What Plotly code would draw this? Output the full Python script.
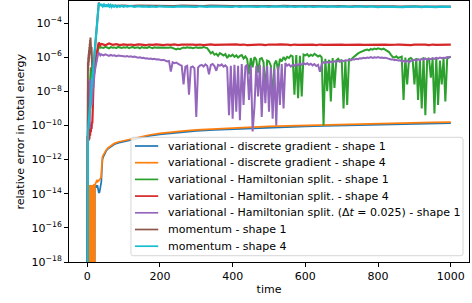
import plotly.graph_objects as go

# ------------------------------------------------------------------
# Data: log10 of the relative error in total energy
# (-30 marks an exact zero, which falls below the log axis)
# ------------------------------------------------------------------
series_names = [
    "variational - discrete gradient - shape 1",
    "variational - discrete gradient - shape 4",
    "variational - Hamiltonian split. - shape 1",
    "variational - Hamiltonian split. - shape 4",
    "variational - Hamiltonian split. (Δ<i>t</i> = 0.025) - shape 1",
    "momentum - shape 1",
    "momentum - shape 4",
]
series_colors = ["#1f77b4", "#ff7f0e", "#2ca02c", "#d62728", "#9467bd", "#8c564b", "#17becf"]
series_widths = [1.7, 1.7, 2.0, 2.2, 2.0, 2.0, 2.2]

x_ticks = [0, 200, 400, 600, 800, 1000]
y_tick_exps = [-18, -16, -14, -12, -10, -8, -6, -4]

late_t5 = list(range(40, 1001, 5))
late_t10 = list(range(40, 1001, 10))

dg_t = [0, 1, 2, 3, 4, 5, 6, 7, 8, 9, 10, 11, 12, 13, 14, 15, 16, 17, 18, 19, 20, 21,
        22, 24, 26, 28, 30, 32, 34, 36, 38,
        39, 40, 41, 42,
        44, 48, 52, 57, 62, 67, 75, 85, 100, 112, 130, 145, 170, 200, 230, 260, 300,
        350, 400, 450, 500, 550, 600, 650, 700, 750, 800, 850, 900, 950, 1000]

blue_log = [-30, -13.7, -30, -13.75, -30, -13.7, -30, -13.8, -30, -13.7, -30, -13.75,
            -30, -13.7, -30, -13.8, -30, -13.7, -30, -13.75, -30, -13.6,
            -13.6, -13.55, -13.65, -13.5, -13.85, -13.95, -13.9, -13.6, -13.5,
            -13.3, -12.7, -12.25, -12.0,
            -11.85, -11.65, -11.5, -11.37, -11.28, -11.2, -11.1, -11.02, -10.94, -10.89,
            -10.8, -10.72, -10.61, -10.52, -10.45, -10.39, -10.32, -10.26, -10.21, -10.16,
            -10.12, -10.08, -10.05, -10.03, -10.01, -9.98, -9.96, -9.93, -9.91, -9.88, -9.86]

orange_log = [-30, -30, -30, -13.5, -30, -13.6, -30, -13.5, -30, -13.55, -30, -13.5,
              -30, -13.6, -30, -13.5, -30, -13.55, -30, -13.45, -30, -13.5,
              -13.45, -13.3, -13.25, -13.3, -13.22, -13.25, -13.18, -13.15, -13.05,
              -12.8, -12.4, -12.05, -11.85,
              -11.75, -11.58, -11.45, -11.32, -11.23, -11.15, -11.05, -10.97, -10.89, -10.84,
              -10.75, -10.67, -10.56, -10.47, -10.39, -10.33, -10.26, -10.2, -10.15, -10.1,
              -10.06, -10.02, -9.99, -9.97, -9.95, -9.92, -9.9, -9.87, -9.85, -9.82, -9.8]

green_t = [0, 0.5, 2, 4, 6, 8, 9, 10, 11, 12, 13, 14, 15, 16, 17, 18, 19, 20,
           22, 24, 26, 28, 30, 32, 34, 36, 38] + late_t5
green_log = [-30, -10.5, -9.6, -9.0, -8.4, -7.6, -6.9, -6.6, -7.0, -6.7, -7.2, -6.9,
             -7.3, -7.0, -7.4, -7.1, -7.3, -6.8, -6.45, -6.15, -5.9, -5.68, -5.5, -5.38,
             -5.40, -5.45, -5.42,
             # t = 40 .. 95
             -5.42, -5.46, -5.40, -5.44, -5.48, -5.41, -5.45, -5.43, -5.47, -5.40, -5.44, -5.46,
             # t = 100 .. 195
             -5.42, -5.45, -5.41, -5.47, -5.43, -5.40, -5.46, -5.44, -5.42, -5.48,
             -5.41, -5.45, -5.43, -5.46, -5.40, -5.44, -5.47, -5.42, -5.45, -5.43,
             # t = 200 .. 295
             -5.44, -5.41, -5.46, -5.43, -5.47, -5.45, -5.42, -5.48, -5.52, -5.55,
             -5.50, -5.53, -5.47, -5.44, -5.46, -5.42, -5.45, -5.43, -5.47, -5.44,
             # t = 300 .. 395
             -5.42, -5.46, -5.43, -5.45, -5.41, -5.44, -5.47, -5.62, -5.78, -5.70,
             -5.86, -5.80, -5.92, -5.76, -5.84, -5.90, -5.82, -6.05, -5.88, -5.95,
             # t = 400 .. 495
             -5.85, -5.98, -5.90, -6.02, -5.93, -5.88, -6.08, -5.96, -6.12, -7.0,
             -6.05, -6.6, -6.0, -6.15, -6.9, -6.1, -6.05, -6.3, -8.0, -6.2,
             # t = 500 .. 595
             -6.25, -6.5, -8.6, -6.4, -6.2, -6.8, -6.1, -6.25, -6.0, -6.15,
             -5.98, -6.05, -5.9, -5.95, -8.2, -5.88, -8.4, -5.92, -8.3, -5.85,
             # t = 600 .. 695
             -5.9, -5.82, -5.95, -5.86, -5.92, -5.8, -5.88, -5.96, -5.9, -6.02,
             -10.0, -6.1, -8.0, -6.15, -8.6, -6.05, -7.8, -6.2, -6.1, -6.25,
             # t = 700 .. 795
             -6.15, -9.0, -6.2, -8.8, -6.1, -6.18, -6.05, -5.95, -5.85, -5.78,
             -5.72, -5.66, -5.62, -5.58, -5.55, -5.6, -5.52, -5.56, -5.5, -5.53,
             # t = 800 .. 895
             -5.48, -5.52, -5.55, -5.5, -5.58, -5.62, -5.7, -5.85, -5.98, -6.02,
             -5.95, -6.05, -6.0, -5.97, -8.5, -6.02, -7.6, -6.1, -6.05, -6.15,
             # t = 900 .. 1000
             -7.6, -6.05, -8.5, -6.1, -9.0, -6.0, -9.4, -6.15, -6.05, -7.2,
             -6.1, -9.3, -6.0, -8.8, -6.2, -7.6, -6.05, -8.6, -6.1, -6.0, -5.98]

red_t = [0, 0.5, 1, 2, 3, 4, 5, 6, 7, 8, 9, 10, 11, 12, 13, 14, 15, 16, 17, 18,
         20, 22, 24, 26, 28, 30, 32, 34, 36, 38] + late_t10
red_log = [-30, -11.0, -10.6, -11.0, -10.4, -10.9, -10.3, -10.8, -10.2, -10.6, -10.0,
           -10.4, -9.9, -10.2, -9.8, -9.9, -9.3, -8.3, -7.4, -7.0, -6.6, -6.3, -6.0,
           -5.75, -5.5, -5.3, -5.15, -5.22, -5.3, -5.24,
           # t = 40 .. 90
           -5.22, -5.30, -5.20, -5.28, -5.24, -5.29,
           # t = 100 .. 890
           -5.25, -5.28, -5.26, -5.29, -5.25, -5.27, -5.30, -5.26, -5.28, -5.25,
           -5.27, -5.29, -5.26, -5.28, -5.25, -5.29, -5.27, -5.26, -5.28, -5.27,
           -5.28, -5.26, -5.29, -5.27, -5.25, -5.28, -5.27, -5.29, -5.26, -5.28,
           -5.27, -5.25, -5.28, -5.26, -5.29, -5.27, -5.28, -5.26, -5.27, -5.29,
           -5.26, -5.28, -5.27, -5.25, -5.28, -5.27, -5.29, -5.26, -5.28, -5.27,
           -5.28, -5.26, -5.27, -5.29, -5.26, -5.28, -5.27, -5.25, -5.28, -5.27,
           -5.26, -5.28, -5.27, -5.29, -5.27, -5.26, -5.28, -5.27, -5.29, -5.26,
           -5.28, -5.27, -5.26, -5.28, -5.29, -5.27, -5.26, -5.28, -5.27, -5.29,
           # t = 900 .. 1000
           -5.27, -5.26, -5.28, -5.27, -5.29, -5.26, -5.28, -5.27, -5.26, -5.28, -5.27]

purple_t = [0, 0.5, 1, 1.5, 2, 2.5, 3, 3.5, 4, 5, 6, 7, 8, 9, 10, 11, 12, 13, 14,
            15, 16, 17, 18, 20, 22, 24, 26, 28, 30, 32, 34, 36, 38] + late_t5
purple_log = [-30, -10.8, -9.0, -10.5, -8.0, -10.0, -7.6, -9.6, -7.4, -9.8, -7.5,
              -10.2, -7.3, -9.0, -7.4, -8.6, -7.3, -8.8, -7.5, -8.2, -7.4, -7.8, -7.4,
              -7.0, -6.7, -6.4, -6.15, -5.95, -5.8, -5.76, -5.86, -5.9, -5.83,
              # t = 40 .. 95
              -5.85, -5.90, -5.84, -5.88, -5.93, -5.87, -5.91, -5.89, -5.94, -5.90, -5.92, -5.95,
              # t = 100 .. 195
              -5.93, -5.96, -5.94, -5.98, -5.95, -5.99, -5.97, -6.0, -6.03, -6.01,
              -6.05, -6.04, -6.08, -6.06, -6.1, -6.08, -6.12, -6.1, -6.14, -6.12,
              # t = 200 .. 295
              -6.15, -6.18, -6.16, -6.2, -6.25, -6.22, -6.85, -6.3, -6.35, -6.32,
              -6.4, -6.45, -6.5, -7.6, -6.55, -6.5, -8.2, -6.6, -6.55, -6.65,
              # t = 300 .. 395
              -9.5, -6.6, -6.5, -6.45, -6.55, -6.42, -6.5, -7.0, -6.45, -6.4,
              -6.52, -6.8, -6.45, -6.5, -6.42, -6.55, -6.48, -6.6, -9.4, -6.5,
              # t = 400 .. 495
              -9.6, -6.45, -9.2, -6.5, -9.7, -6.4, -8.8, -6.55, -6.45, -8.5,
              -6.5, -10.35, -8.9, -6.5, -8.3, -6.45, -9.5, -6.55, -8.7, -6.5,
              # t = 500 .. 595
              -9.2, -6.6, -9.6, -6.7, -10.0, -6.5, -8.8, -6.4, -9.0, -6.35,
              -6.5, -6.42, -6.55, -6.45, -6.5, -6.4, -6.48, -6.38, -6.45, -6.35,
              # t = 600 .. 695
              -6.42, -6.36, -6.45, -6.38, -6.48, -6.4, -6.52, -6.45, -6.85, -6.4,
              -6.3, -6.34, -6.28, -6.32, -6.26, -6.3, -6.24, -6.28, -6.22, -6.25,
              # t = 700 .. 795
              -6.2, -6.23, -6.18, -6.2, -6.15, -6.18, -6.12, -6.14, -6.1, -6.12,
              -6.06, -6.08, -6.04, -6.06, -6.02, -6.05, -6.0, -6.04, -6.01, -6.03,
              # t = 800 .. 895
              -6.0, -6.04, -6.02, -6.05, -6.03, -6.07, -6.1, -6.14, -6.12, -6.18,
              -6.15, -6.2, -6.18, -6.25, -6.22, -6.28, -6.2, -6.3, -6.22, -6.18,
              # t = 900 .. 1000
              -6.15, -6.2, -6.12, -6.18, -6.1, -6.14, -6.08, -6.16, -6.1, -6.12,
              -6.06, -6.1, -6.04, -6.08, -6.02, -6.06, -6.03, -6.05, -6.0, -6.02, -5.98]

brown_t = [0, 0.5, 1, 1.5, 2, 2.5, 3, 3.5, 4, 4.5, 5, 5.5, 6, 6.5, 7, 7.5, 8, 8.5,
           9, 9.5, 10, 10.5, 11, 11.5, 12, 12.5, 13, 14, 16, 20, 24, 28, 32, 34, 40, 50] \
          + list(range(60, 1001, 20))
brown_log = [-30, -7.5, -6.6, -7.0, -6.3, -6.8, -6.0, -6.5, -5.8, -6.3, -5.6, -6.1,
             -5.4, -5.9, -5.2, -5.7, -5.0, -5.5, -4.85, -5.4, -4.9, -5.5, -5.1, -5.8,
             -5.4, -6.2, -6.0, -6.8, -6.85, -5.83, -4.83, -3.83, -2.8, -2.92, -2.96, -2.97,
             # t = 60 .. 1000 step 20
             -2.98, -2.99, -2.97, -3.0, -2.98, -2.99, -3.0, -2.98, -2.99, -3.01,
             -2.98, -3.0, -2.99, -3.01, -2.98, -3.0, -2.99, -3.01, -3.0, -2.99,
             -3.01, -2.99, -3.0, -3.02, -2.99, -3.01, -3.0, -3.02, -3.0, -3.01,
             -3.02, -3.0, -3.01, -3.03, -3.0, -3.02, -3.01, -3.03, -3.01, -3.02,
             -3.03, -3.01, -3.02, -3.03, -3.02, -3.03, -3.02, -3.03]

cyan_t = [0, 0.3, 2, 4, 6, 8, 10, 12, 14, 16, 18, 20, 22, 24, 26, 28, 30, 32, 34, 36,
          38, 40, 43, 46, 49, 52, 55, 58, 61, 64, 67, 70, 74, 78, 82, 86, 90, 95, 100,
          105, 110, 120, 130, 140, 150] + list(range(160, 1001, 10))
cyan_log = [-30, -10.8, -10.4, -9.85, -9.4, -8.85, -8.35, -7.85, -7.35, -6.85, -6.35,
            -5.85, -5.35, -4.85, -4.35, -3.85, -3.35, -2.83, -2.95, -2.88, -3.0, -2.9,
            -3.02, -2.92, -3.04, -2.93, -3.05, -2.94, -3.04, -2.95, -3.06, -2.97, -3.05,
            -2.97, -3.06, -2.99, -3.05, -2.99, -3.05, -3.0, -3.04, -3.0, -3.05, -3.01, -3.04,
            # t = 160 .. 1000 step 10
            -3.02, -3.05, -3.03, -3.06, -3.02, -3.04, -3.05, -3.02, -3.06, -3.03,
            -3.04, -3.02, -3.05, -3.03, -3.06, -3.02, -3.04, -3.05, -3.03, -3.04,
            -3.02, -3.05, -3.03, -3.04, -3.06, -3.02, -3.05, -3.03, -3.04, -3.06,
            -3.03, -3.05, -3.02, -3.04, -3.06, -3.03, -3.05, -3.04, -3.02, -3.05,
            -3.03, -3.06, -3.04, -3.02, -3.05, -3.03, -3.06, -3.04, -3.05, -3.03,
            -3.05, -3.02, -3.04, -3.06, -3.03, -3.05, -3.04, -3.06, -3.03, -3.05,
            -3.04, -3.06, -3.03, -3.05, -3.07, -3.04, -3.05, -3.03, -3.06, -3.04,
            -3.05, -3.07, -3.04, -3.06, -3.03, -3.05, -3.07, -3.04, -3.06, -3.05,
            -3.07, -3.04, -3.06, -3.05, -3.06]

series_t = [dg_t, dg_t, green_t, red_t, purple_t, brown_t, cyan_t]
series_log = [blue_log, orange_log, green_log, red_log, purple_log, brown_log, cyan_log]

# ------------------------------------------------------------------
fig = go.Figure()
for name, color, w, t, lg in zip(series_names, series_colors, series_widths, series_t, series_log):
    fig.add_trace(go.Scatter(
        x=t, y=[10.0 ** v for v in lg], mode="lines", name=name,
        line=dict(color=color, width=w), showlegend=False,
    ))

FONT = "DejaVu Sans"
fig.update_layout(
    width=472, height=303,
    margin=dict(l=69, r=3, t=1, b=41, autoexpand=False),
    paper_bgcolor="white", plot_bgcolor="white",
    font=dict(family=FONT, size=11, color="black"),
    showlegend=False,
)
fig.update_xaxes(
    range=[-50, 1050], tickvals=x_ticks, ticktext=[str(v) for v in x_ticks],
    ticks="outside", ticklen=4, tickwidth=1, tickcolor="black",
    showline=True, linecolor="black", linewidth=1, mirror=True,
    showgrid=False, zeroline=False, automargin=False,
    title=dict(text="time", standoff=3, font=dict(size=11)),
)
fig.update_yaxes(
    type="log", range=[-18, -2.71],
    tickvals=[10.0 ** e for e in y_tick_exps],
    ticktext=["10<sup>\u2212%d</sup>" % (-e) for e in y_tick_exps],
    ticks="outside", ticklen=4, tickwidth=1, tickcolor="black",
    showline=True, linecolor="black", linewidth=1, mirror=True,
    showgrid=False, zeroline=False, automargin=False,
)

# ---- legend box (matplotlib style) ----
x0, x1, y0, y1 = 0.1549, 0.985, 0.0241, 0.4778
rx, ry = 0.006, 0.009
path = (f"M {x0+rx},{y0} L {x1-rx},{y0} Q {x1},{y0} {x1},{y0+ry} "
        f"L {x1},{y1-ry} Q {x1},{y1} {x1-rx},{y1} L {x0+rx},{y1} "
        f"Q {x0},{y1} {x0},{y1-ry} L {x0},{y0+ry} Q {x0},{y0} {x0+rx},{y0} Z")
shapes = [dict(type="path", xref="paper", yref="paper", path=path,
               fillcolor="rgba(255,255,255,0.8)", line=dict(color="rgba(204,204,204,0.8)", width=1),
               layer="above")]
annotations = [dict(xref="paper", yref="paper", x=-0.1225, y=0.5,
                    text="relative error in total energy", textangle=-90,
                    showarrow=False, xanchor="center", yanchor="middle",
                    font=dict(family=FONT, size=11, color="black"))]
plot_h = 261.0
for k, (name, color) in enumerate(zip(series_names, series_colors)):
    py = 146 + 16.7 * k
    yp = (262 - py) / plot_h
    shapes.append(dict(type="line", xref="paper", yref="paper", x0=0.1649, x1=0.2231,
                       y0=yp, y1=yp, line=dict(color=color, width=1.7), layer="above"))
    annotations.append(dict(xref="paper", yref="paper", x=0.2427, y=yp, text=name,
                            showarrow=False, xanchor="left", yanchor="middle",
                            font=dict(family=FONT, size=11, color="black")))
fig.update_layout(shapes=shapes, annotations=annotations)

fig.write_html("out.html", config={"displayModeBar": False},
               post_script="document.body.style.margin='0px';")
